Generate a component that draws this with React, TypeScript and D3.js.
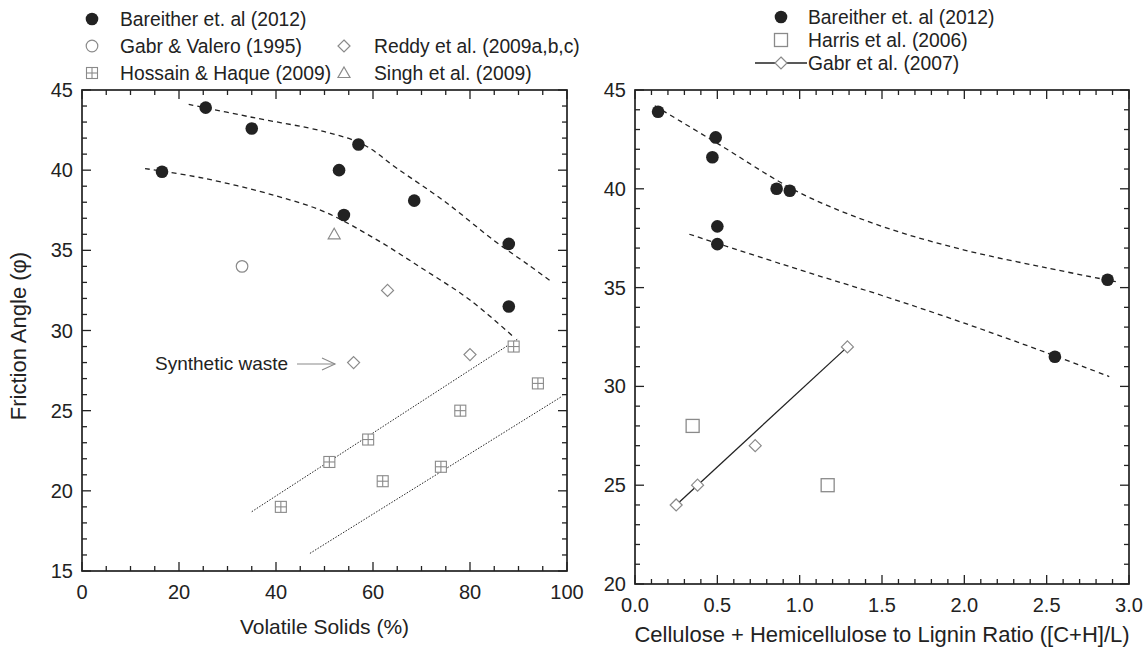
import React from 'react';
import * as d3 from 'd3';

// left panel: friction angle vs volatile solids
const bareitherVS = [[16.5, 39.9], [25.5, 43.9], [35, 42.6], [53, 40.0], [54, 37.2], [57, 41.6], [68.5, 38.1], [88, 35.4], [88, 31.5]];
const gabrValero = [[33, 34]];
const reddy = [[63, 32.5], [80, 28.5], [56, 28]];
const singh = [[52, 36]];
const hossain = [[41, 19], [51, 21.8], [59, 23.2], [62, 20.6], [74, 21.5], [78, 25], [89, 29], [94, 26.7]];
const upperCurveVS = [[22, 44.1], [35, 43.3], [50, 42.4], [58, 41.6], [65, 40.1], [75, 38.0], [85, 35.6], [92, 34.1], [97, 33.0]];
const lowerCurveVS = [[13, 40.1], [25, 39.5], [40, 38.4], [50, 37.4], [60, 35.8], [70, 33.9], [80, 31.9], [89, 29.6]];
const upperFitVS = [[35, 18.7], [90, 29.5]];
const lowerFitVS = [[47, 16.1], [99, 25.9]];

// right panel: friction angle vs (C+H)/L
const bareitherCHL = [[0.14, 43.9], [0.47, 41.6], [0.49, 42.6], [0.86, 40.0], [0.94, 39.9], [0.50, 38.1], [0.50, 37.2], [2.55, 31.5], [2.87, 35.4]];
const harris = [[0.35, 28], [1.17, 25]];
const gabr2007 = [[0.25, 24], [0.38, 25], [0.73, 27], [1.29, 32]];
const upperCurveCHL = [[0.12, 44.2], [0.5, 42.3], [1.0, 39.8], [1.5, 38.1], [2.0, 36.9], [2.5, 36.0], [2.92, 35.3]];
const lowerCurveCHL = [[0.33, 37.7], [1.0, 35.9], [1.5, 34.6], [2.0, 33.2], [2.5, 31.7], [2.88, 30.5]];

const xTicksVS = [0, 20, 40, 60, 80, 100];
const xTicksCHL = [0, 0.5, 1, 1.5, 2, 2.5, 3];

const FONT = 'Liberation Sans, Arial, sans-serif';
const INK = '#222';
const GREY = '#8a8a8a';

const Dot = ({ x, y }) => <circle cx={x} cy={y} r={6.3} fill={INK} />;
const Ring = ({ x, y }) => <circle cx={x} cy={y} r={5.8} fill="none" stroke={GREY} strokeWidth={1.2} />;
const Diamond = ({ x, y }) => (
  <path d={`M${x},${y - 6}L${x + 6},${y}L${x},${y + 6}L${x - 6},${y}Z`} fill="white" stroke={GREY} strokeWidth={1.2} />
);
const Tri = ({ x, y }) => (
  <path d={`M${x},${y - 6}L${x + 6},${y + 4.5}L${x - 6},${y + 4.5}Z`} fill="none" stroke={GREY} strokeWidth={1.2} />
);
const Square = ({ x, y }) => <rect x={x - 6.5} y={y - 6.5} width={13} height={13} fill="white" stroke={GREY} strokeWidth={1.3} />;
const GridSq = ({ x, y }) => (
  <g stroke={GREY} strokeWidth={1.1} fill="white">
    <rect x={x - 5.5} y={y - 5.5} width={11} height={11} />
    <line x1={x} y1={y - 5.5} x2={x} y2={y + 5.5} />
    <line x1={x - 5.5} y1={y} x2={x + 5.5} y2={y} />
  </g>
);

const Frame = ({ xs, ys, xMinor, xMajor, yMinor, yMajor, xFmt, yFmt }) => {
  const [x0, x1] = xs.range();
  const [y0, y1] = ys.range();
  return (
    <g>
      <rect x={x0} y={y1} width={x1 - x0} height={y0 - y1} fill="none" stroke={INK} strokeWidth={1.7} />
      {xMinor.map((v, i) => {
        const major = xMajor.some(m => Math.abs(m - v) < 1e-6);
        const L = major ? 9 : 5;
        return (
          <g key={'x' + i} stroke={INK} strokeWidth={1.3}>
            <line x1={xs(v)} x2={xs(v)} y1={y0} y2={y0 - L} />
            <line x1={xs(v)} x2={xs(v)} y1={y1} y2={y1 + L} />
          </g>
        );
      })}
      {yMinor.map((v, i) => {
        const major = yMajor.some(m => Math.abs(m - v) < 1e-6);
        const L = major ? 9 : 5;
        return (
          <g key={'y' + i} stroke={INK} strokeWidth={1.3}>
            <line x1={x0} x2={x0 + L} y1={ys(v)} y2={ys(v)} />
            <line x1={x1} x2={x1 - L} y1={ys(v)} y2={ys(v)} />
          </g>
        );
      })}
      {xMajor.map(v => (
        <text key={'xl' + v} x={xs(v)} y={y0 + 28} textAnchor="middle" fontSize={20} fill={INK}>{xFmt(v)}</text>
      ))}
      {yMajor.map(v => (
        <text key={'yl' + v} x={x0 - 9} y={ys(v) + 7} textAnchor="end" fontSize={20} fill={INK}>{yFmt(v)}</text>
      ))}
    </g>
  );
};

const App = () => {
  const xL = d3.scaleLinear().domain([0, 100]).range([82, 567]);
  const yL = d3.scaleLinear().domain([15, 45]).range([571, 90]);
  const xR = d3.scaleLinear().domain([0, 3]).range([635, 1129]);
  const yR = d3.scaleLinear().domain([20, 45]).range([584, 90]);

  const curveL = d3.line().x(d => xL(d[0])).y(d => yL(d[1])).curve(d3.curveCatmullRom);
  const curveR = d3.line().x(d => xR(d[0])).y(d => yR(d[1])).curve(d3.curveCatmullRom);

  return (
    <svg width={1148} height={651} style={{ display: 'block', position: 'absolute', left: 0, top: 0, fontFamily: FONT }}>
      <rect width={1148} height={651} fill="white" />

      {/* left panel */}
      <Frame xs={xL} ys={yL} xMinor={d3.range(0, 100.1, 5)} xMajor={xTicksVS}
        yMinor={d3.range(15, 45.1, 1)} yMajor={d3.range(15, 45.1, 5)}
        xFmt={v => String(v)} yFmt={v => String(v)} />
      <path d={curveL(upperCurveVS)} fill="none" stroke={INK} strokeWidth={1.3} strokeDasharray="5,4" />
      <path d={curveL(lowerCurveVS)} fill="none" stroke={INK} strokeWidth={1.3} strokeDasharray="5,4" />
      <path d={curveL(upperFitVS)} fill="none" stroke={INK} strokeWidth={1} strokeDasharray="1.5,1.5" />
      <path d={curveL(lowerFitVS)} fill="none" stroke={INK} strokeWidth={1} strokeDasharray="1.5,1.5" />
      {hossain.map((d, i) => <GridSq key={'h' + i} x={xL(d[0])} y={yL(d[1])} />)}
      {reddy.map((d, i) => <Diamond key={'r' + i} x={xL(d[0])} y={yL(d[1])} />)}
      {singh.map((d, i) => <Tri key={'s' + i} x={xL(d[0])} y={yL(d[1])} />)}
      {gabrValero.map((d, i) => <Ring key={'g' + i} x={xL(d[0])} y={yL(d[1])} />)}
      {bareitherVS.map((d, i) => <Dot key={'b' + i} x={xL(d[0])} y={yL(d[1])} />)}
      <text x={155} y={370} fontSize={19} fill={INK}>Synthetic waste</text>
      <g stroke={GREY} strokeWidth={1.1} fill="none">
        <line x1={297} y1={364} x2={335} y2={364} />
        <path d="M322,358L335,364L322,370" />
      </g>
      <text transform="translate(26,336) rotate(-90)" textAnchor="middle" fontSize={22} fill={INK}>Friction Angle (φ)</text>
      <text x={(82 + 567) / 2} y={634} textAnchor="middle" fontSize={21} fill={INK}>Volatile Solids (%)</text>

      {/* left legend */}
      <g fontSize={19.3} fill={INK}>
        <Dot x={92} y={19} />
        <text x={120} y={26}>Bareither et. al (2012)</text>
        <Ring x={92} y={46} />
        <text x={120} y={53}>Gabr &amp; Valero (1995)</text>
        <GridSq x={92} y={73} />
        <text x={120} y={80}>Hossain &amp; Haque (2009)</text>
        <Diamond x={344} y={46} />
        <text x={374} y={53}>Reddy et al. (2009a,b,c)</text>
        <Tri x={344} y={73} />
        <text x={374} y={80}>Singh et al. (2009)</text>
      </g>

      {/* right panel */}
      <Frame xs={xR} ys={yR} xMinor={d3.range(0, 3.001, 0.1)} xMajor={xTicksCHL}
        yMinor={d3.range(20, 45.1, 1)} yMajor={d3.range(20, 45.1, 5)}
        xFmt={v => v.toFixed(1)} yFmt={v => String(v)} />
      <path d={curveR(upperCurveCHL)} fill="none" stroke={INK} strokeWidth={1.3} strokeDasharray="5,4" />
      <path d={curveR(lowerCurveCHL)} fill="none" stroke={INK} strokeWidth={1.3} strokeDasharray="5,4" />
      <path d={curveR([gabr2007[0], gabr2007[gabr2007.length - 1]])} fill="none" stroke={INK} strokeWidth={1.3} />
      {gabr2007.map((d, i) => <Diamond key={'gr' + i} x={xR(d[0])} y={yR(d[1])} />)}
      {harris.map((d, i) => <Square key={'ha' + i} x={xR(d[0])} y={yR(d[1])} />)}
      {bareitherCHL.map((d, i) => <Dot key={'br' + i} x={xR(d[0])} y={yR(d[1])} />)}
      <text x={(635 + 1129) / 2} y={642} textAnchor="middle" fontSize={22} fill={INK}>Cellulose + Hemicellulose to Lignin Ratio ([C+H]/L)</text>

      {/* right legend */}
      <g fontSize={19.3} fill={INK}>
        <Dot x={781} y={17} />
        <text x={808} y={24}>Bareither et. al (2012)</text>
        <Square x={781} y={40} />
        <text x={808} y={47}>Harris et al. (2006)</text>
        <line x1={755} x2={807} y1={63} y2={63} stroke={INK} strokeWidth={1.3} />
        <Diamond x={781} y={63} />
        <text x={808} y={70}>Gabr et al. (2007)</text>
      </g>
    </svg>
  );
};

export default App;
